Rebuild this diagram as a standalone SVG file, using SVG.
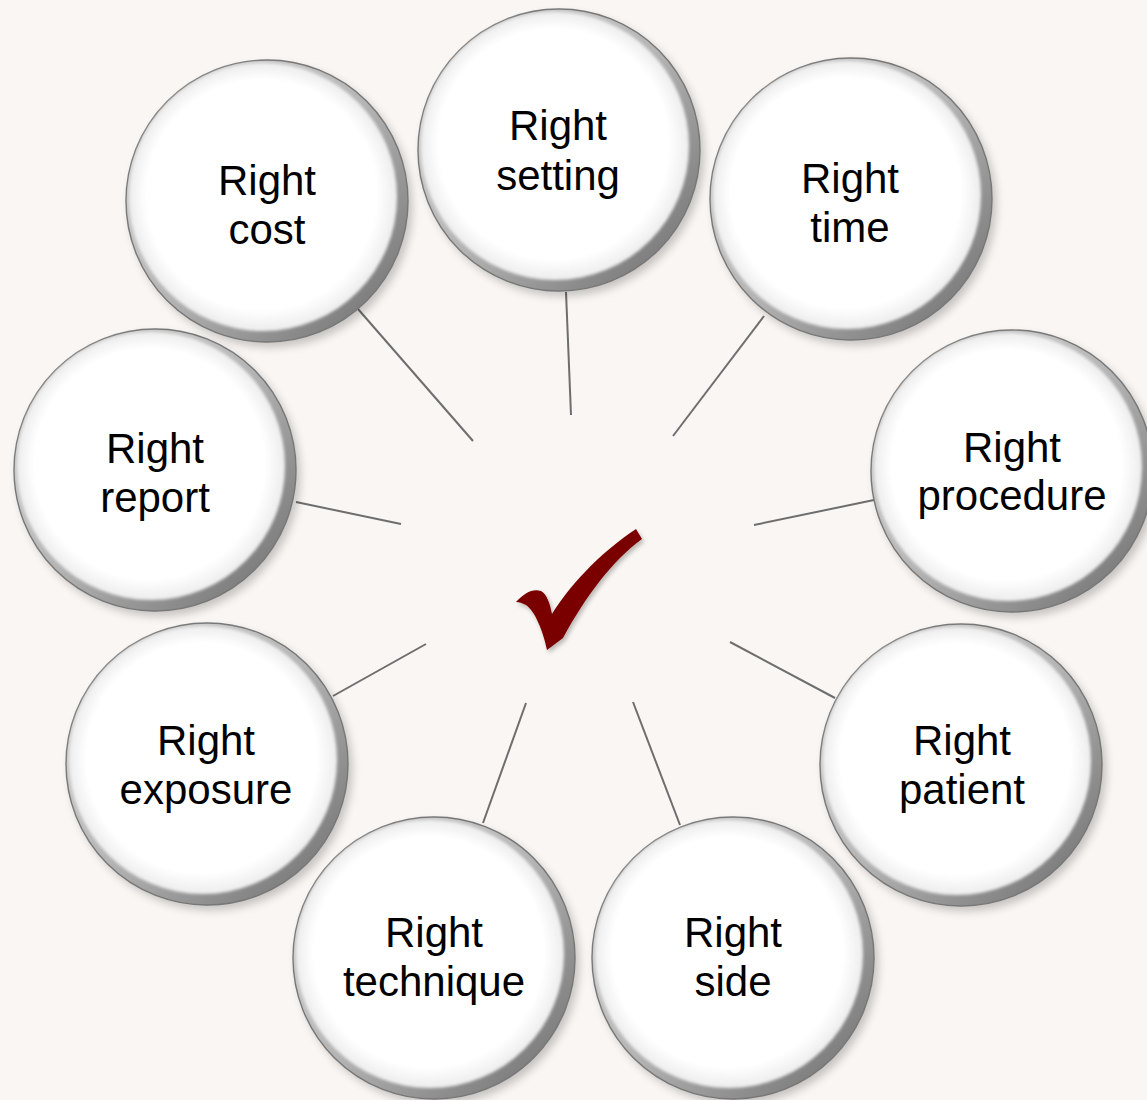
<svg xmlns="http://www.w3.org/2000/svg" width="1147" height="1100" viewBox="0 0 1147 1100">
<defs>
<style>
.lbl{font-family:"Liberation Sans",Arial,sans-serif;font-size:42px;fill:#000;text-anchor:middle}
.con{stroke:#6e6e6e;stroke-width:2;fill:none}
</style>
<linearGradient id="rim" x1="0" y1="0" x2="1" y2="1">
<stop offset="0" stop-color="#dcdcdc"/>
<stop offset="0.5" stop-color="#b4b4b4"/>
<stop offset="1" stop-color="#6a6a6a"/>
</linearGradient>
<radialGradient id="face" cx="0.5" cy="0.5" r="0.5" fx="0.46" fy="0.44">
<stop offset="0" stop-color="#ffffff"/>
<stop offset="0.86" stop-color="#ffffff"/>
<stop offset="1" stop-color="#ededed"/>
</radialGradient>
<filter id="soft" x="-10%" y="-10%" width="120%" height="120%"><feGaussianBlur stdDeviation="1.8"/></filter>
<filter id="drop" x="-20%" y="-20%" width="140%" height="140%"><feGaussianBlur stdDeviation="5"/></filter>
<filter id="ckshadow" x="-30%" y="-30%" width="160%" height="160%"><feDropShadow dx="2" dy="3" stdDeviation="2" flood-color="#000" flood-opacity="0.25"/></filter>
<g id="bubble">
<circle cx="4" cy="5" r="141" fill="#000" opacity="0.22" filter="url(#drop)"/>
<circle r="141" fill="url(#rim)" stroke="#777" stroke-width="1.4"/>
<circle cx="-4" cy="-4" r="134" fill="url(#face)" filter="url(#soft)"/>
</g>
</defs>
<rect width="1147" height="1100" fill="#f9f6f3"/>
<g id="connectors">
<line class="con" x1="358" y1="309" x2="473" y2="441"/>
<line class="con" x1="566" y1="292" x2="571" y2="415"/>
<line class="con" x1="764" y1="316" x2="673" y2="436"/>
<line class="con" x1="874" y1="500" x2="754" y2="525"/>
<line class="con" x1="296" y1="502" x2="401" y2="524"/>
<line class="con" x1="426" y1="644" x2="333" y2="696"/>
<line class="con" x1="526" y1="703" x2="483" y2="823"/>
<line class="con" x1="633" y1="702" x2="680" y2="825"/>
<line class="con" x1="730" y1="642" x2="835" y2="698"/>
</g>
<g id="node-setting"><use href="#bubble" x="559" y="150"/><text class="lbl" x="558" y="140">Right</text><text class="lbl" x="558" y="190">setting</text></g>
<g id="node-cost"><use href="#bubble" x="267" y="201"/><text class="lbl" x="267" y="195">Right</text><text class="lbl" x="267" y="244">cost</text></g>
<g id="node-time"><use href="#bubble" x="851" y="199"/><text class="lbl" x="850" y="193">Right</text><text class="lbl" x="850" y="242">time</text></g>
<g id="node-report"><use href="#bubble" x="155" y="470"/><text class="lbl" x="155" y="463">Right</text><text class="lbl" x="155" y="512">report</text></g>
<g id="node-procedure"><use href="#bubble" x="1012" y="471"/><text class="lbl" x="1012" y="462">Right</text><text class="lbl" x="1012" y="510">procedure</text></g>
<g id="node-exposure"><use href="#bubble" x="207" y="764"/><text class="lbl" x="206" y="755">Right</text><text class="lbl" x="206" y="804">exposure</text></g>
<g id="node-patient"><use href="#bubble" x="961" y="765"/><text class="lbl" x="962" y="755">Right</text><text class="lbl" x="962" y="804">patient</text></g>
<g id="node-technique"><use href="#bubble" x="434" y="958"/><text class="lbl" x="434" y="947">Right</text><text class="lbl" x="434" y="996">technique</text></g>
<g id="node-side"><use href="#bubble" x="733" y="958"/><text class="lbl" x="733" y="947">Right</text><text class="lbl" x="733" y="996">side</text></g>
<g id="check">
<path d="M516,602 C524,593 533,588 541,591 C547,594 550,604 552,614 C568,588 598,554 636,529 L642,539 C612,561 586,596 563,638 L547,650 C543,631 535,611 526,605 C522,603 519,602 516,602 Z" fill="#7a0000" filter="url(#ckshadow)"/>
</g>
</svg>
